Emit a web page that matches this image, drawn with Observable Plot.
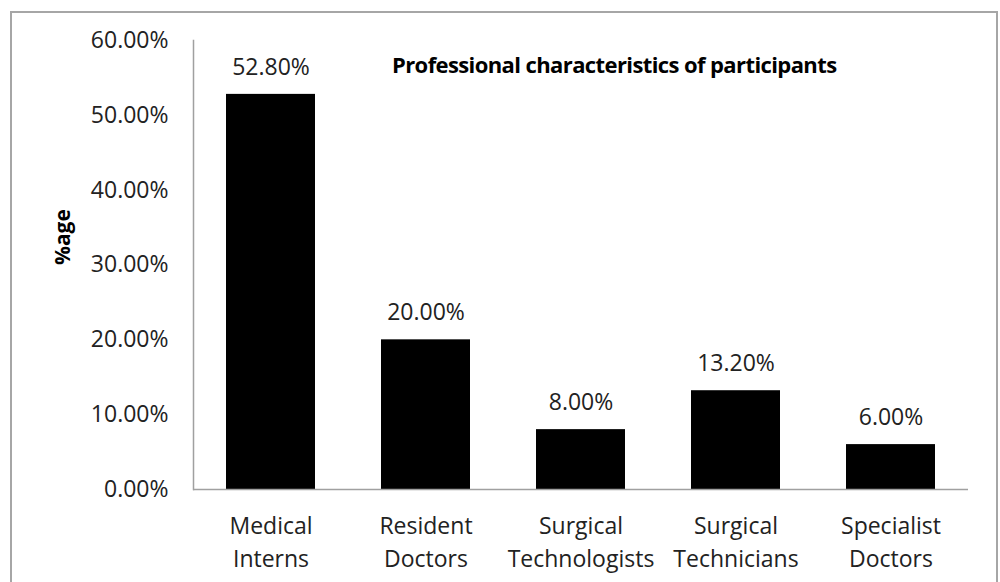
<!DOCTYPE html>
<html>
<head>
<meta charset="utf-8">
<script src="https://cdn.jsdelivr.net/npm/d3@7"></script>
<script src="https://cdn.jsdelivr.net/npm/@observablehq/plot@0.6"></script>
<style>
  html, body { margin: 0; padding: 0; background: #fff; overflow: hidden; }
  #wrap { position: relative; width: 1000px; height: 582px; }
  #border { position: absolute; left: 10px; top: 11px; width: 984px; height: 600px;
            border: 2px solid #a6a6a6; border-bottom: none; pointer-events: none; }
  #title { position: absolute; left: 392px; top: 49px; font-family: "Open Sans", sans-serif;
           font-weight: bold; font-size: 22px; color: #000; white-space: nowrap; letter-spacing: -0.6px; }
  #chart { position: absolute; left: 0; top: 0; }
</style>
</head>
<body>
<div id="wrap">
  <div id="chart"></div>
  <div id="border"></div>
  <div id="title">Professional characteristics of participants</div>
</div>
<script>
const categories = ["Medical Interns", "Resident Doctors", "Surgical Technologists", "Surgical Technicians", "Specialist Doctors"];
const tickLabels = ["Medical\nInterns", "Resident\nDoctors", "Surgical\nTechnologists", "Surgical\nTechnicians", "Specialist\nDoctors"];
const values = [52.8, 20.0, 8.0, 13.2, 6.0];
const yTicks = [0, 10, 20, 30, 40, 50, 60];
const yLabel = "%age";

const data = categories.map((c, i) => ({category: c, value: values[i]}));
const fmt = v => v.toFixed(2) + "%";

const chart = Plot.plot({
  width: 1000,
  height: 582,
  marginLeft: 193,
  marginRight: 32,
  marginTop: 40,
  marginBottom: 93,
  style: {fontFamily: "'Open Sans', sans-serif", fontSize: "23px", color: "#222", background: "transparent"},
  x: {domain: categories, paddingInner: 0.426, paddingOuter: 0.213},
  y: {domain: [0, 60]},
  marks: [
    Plot.barY(data, {x: "category", y: "value", fill: "#000"}),
    Plot.ruleY([0], {stroke: "#a0a0a0", strokeWidth: 1.5}),
    Plot.frame({anchor: "left", stroke: "#a0a0a0", strokeWidth: 1.5}),
    Plot.text(data, {x: "category", y: "value", text: d => fmt(d.value), lineAnchor: "middle", dy: -27, fontSize: 23, fill: "#222"}),
    Plot.axisY({ticks: yTicks, tickSize: 0, tickPadding: 25, tickFormat: fmt, label: null, fontSize: 23, fill: "#222"}),
    Plot.axisX({tickSize: 0, tickPadding: 22, tickFormat: d => tickLabels[categories.indexOf(d)], lineHeight: 1.4, label: null, fontSize: 23, fill: "#222"}),
    Plot.text([yLabel], {frameAnchor: "left", dx: -130, rotate: -90, fontWeight: "bold", fontSize: 21, fill: "#000"})
  ]
});
document.getElementById("chart").appendChild(chart);
</script>
</body>
</html>
